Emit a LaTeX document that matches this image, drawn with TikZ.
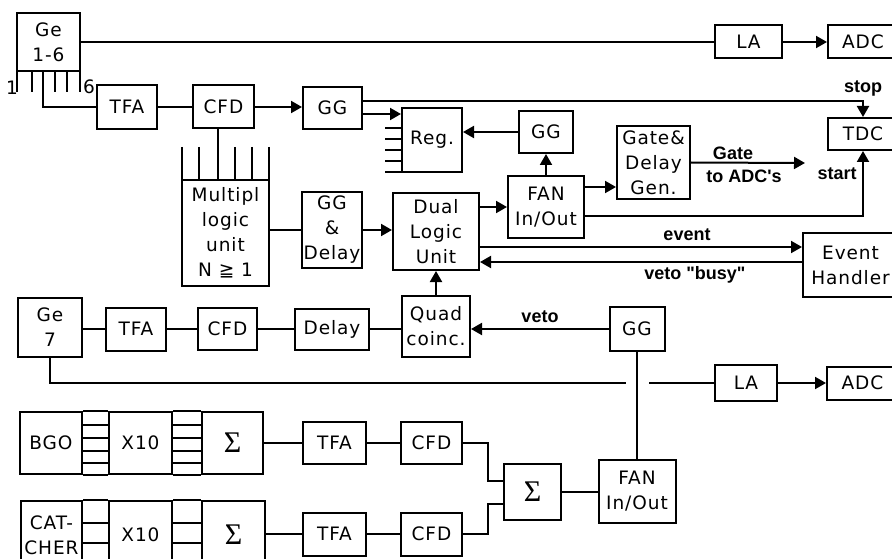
\documentclass[tikz,border=0pt]{standalone}
\usepackage{fontspec}
\setmainfont{DejaVu Sans}[LetterSpace=5]
\newfontfamily\lblfont{Liberation Sans}
\newfontfamily\sumfont{Liberation Serif}
\usetikzlibrary{arrows.meta}
\tikzset{
  blk/.style 2 args={draw, line width=2pt, minimum width=#1, minimum height=#2,
    inner sep=0pt, align=center, font=\fontsize{18.5}{25}\selectfont},
  txt/.style={inner sep=0pt, font=\fontsize{18.5}{25}\selectfont},
  lbl/.style={inner sep=0pt, font=\lblfont\bfseries\fontsize{18}{20}\selectfont},
  wire/.style={line width=2pt},
  sig/.style={wire, -{Triangle[length=11pt,width=12pt]}}
}
\newcommand{\sumsym}{{\sumfont\fontsize{30}{30}\selectfont Σ}}
\begin{document}
\begin{tikzpicture}[x=1pt,y=-1pt]
\useasboundingbox (0,0) rectangle (892,559);
\node[blk={63}{58}] (ge1) at (48.5,42) {Ge\\1-6};
\node[blk={67}{33}] (la1) at (748.5,42) {LA};
\node[blk={70}{33}] (adc1) at (863,42) {ADC};
\draw[wire] (ge1.east) -- (la1.west);
\draw[sig] (la1) -- (adc1);
\foreach \x in {17,32,43,55,67,80} \draw[wire] (\x,71) -- (\x,92);
\node[txt] (one) at (12,88) {1};
\node[txt] (six) at (89,87) {6};
\coordinate (t3) at (43,92);
\node[blk={60}{44}] (tfa1) at (127,107) {TFA};
\node[blk={61}{43}] (cfd1) at (223.5,107) {CFD};
\node[blk={59}{42}] (gg1) at (332.5,108) {GG};
\draw[wire] (t3) |- (tfa1.west);
\draw[wire] (tfa1) -- (cfd1);
\draw[sig] (cfd1) -- (cfd1 -| gg1.west);
\node[blk={87}{106}] (mlu) at (225.5,233) {Multipl\\logic\\unit\\N ≧ 1};
\foreach \x in {182,199,218,235,252,269} \draw[wire] (\x,147) -- (\x,180);
\coordinate (mt) at (218,147);
\draw[wire] (cfd1.south -| mt) -- (mt);
\node[blk={60}{76}] (ggd) at (332,230) {GG\\\&\\Delay};
\node[blk={86}{77}] (dlu) at (436,231.5) {Dual\\Logic\\Unit};
\draw[wire] (mlu.east |- ggd.west) -- (ggd.west);
\draw[sig] (ggd.east) -- (ggd.east -| dlu.west);
\node[blk={60}{64}] (reg) at (432,140) {Reg.};
\foreach \y in {128,139,150,161,172} \draw[wire] (385,\y) -- (402,\y);
\coordinate (gg1b) at ([yshift=-6pt]gg1.east);
\draw[sig] (gg1b) -- (gg1b -| reg.west);
\node[blk={70}{32}] (tdc) at (863,134) {TDC};
\coordinate (gg1a) at ([yshift=7pt]gg1.east);
\draw[sig] (gg1a) -| (tdc.north);
\node[lbl] (stop) at (863,88) {stop};
\node[blk={54}{42}] (gg2) at (546,132) {GG};
\node[blk={76}{62}] (fan1) at (546,207) {FAN\\In/Out};
\draw[sig] (gg2.west) -- (gg2.west -| reg.east);
\draw[sig] (fan1.north) -- (gg2.south);
\draw[sig] (fan1.west -| dlu.east) -- (fan1.west);
\node[blk={73}{73}] (gdg) at (653.5,162.5) {Gate\&\\Delay\\Gen.};
\coordinate (fan1a) at ([yshift=20pt]fan1.east);
\draw[sig] (fan1a) -- (fan1a -| gdg.west);
\coordinate (gateout) at (805,163);
\draw[sig] (gdg.east) -- (gateout);
\node[lbl] (gatel) at (733,153) {Gate};
\node[lbl] (toadc) at (744,176) {to ADC's};
\coordinate (fan1b) at ([yshift=-9pt]fan1.east);
\draw[sig] (fan1b) -| (tdc.south);
\node[lbl] (start) at (837,174) {start};
\node[blk={95}{64}] (evh) at (850.5,265) {Event\\Handler};
\coordinate (dluev) at ([yshift=-15.5pt]dlu.east);
\coordinate (dluveto) at ([yshift=-30.5pt]dlu.east);
\draw[sig] (dluev) -- (dluev -| evh.west);
\draw[sig] (dluveto -| evh.west) -- (dluveto);
\node[lbl] (event) at (687,235) {event};
\node[lbl] (busy) at (695,275) {veto "busy"};
\node[blk={64}{59}] (ge7) at (50,327) {Ge\\7};
\node[blk={60}{43}] (tfa2) at (136,329) {TFA};
\node[blk={59}{42}] (cfd2) at (227.5,329) {CFD};
\node[blk={74}{41}] (dly) at (332,329) {Delay};
\node[blk={68}{61}] (quad) at (436,326.5) {Quad\\coinc.};
\node[blk={55}{44}] (gg3) at (637,329) {GG};
\draw[wire] (ge7.east |- tfa2.west) -- (tfa2.west);
\draw[wire] (tfa2) -- (cfd2);
\draw[wire] (cfd2) -- (dly);
\draw[wire] (dly.east) -- (dly.east -| quad.west);
\draw[sig] (gg3.west) -- (gg3.west -| quad.east);
\node[lbl] (veto) at (540,317) {veto};
\draw[sig] (quad.north) -- (dlu.south);
\coordinate (gapl) at (626,383);
\coordinate (gapr) at (649,383);
\node[blk={62}{36}] (la2) at (746,383) {LA};
\node[blk={71}{33}] (adc2) at (862.5,383) {ADC};
\draw[wire] (ge7.south) |- (gapl);
\draw[wire] (gapr) -- (la2.west);
\draw[sig] (la2) -- (adc2);
\node[blk={77}{63}] (fan2) at (637,491.5) {FAN\\In/Out};
\node[blk={57}{56}] (sum) at (532.5,491.5) {\sumsym};
\draw[wire] (gg3.south) -- (fan2.north);
\draw[wire] (sum) -- (fan2);
\node[blk={62}{62}] (bgo) at (51,443) {BGO};
\node[blk={63}{62}] (xa) at (140.5,443) {X10};
\node[blk={61}{62}] (sa) at (232.5,443) {\sumsym};
\draw[wire] (bgo.north east) -- (xa.north west) (xa.north east) -- (sa.north west);
\draw[wire] (bgo.south east) -- (xa.south west) (xa.south east) -- (sa.south west);
\foreach \y in {425,438,451,463} {
  \draw[wire] (82,\y) -- (109,\y);
  \draw[wire] (172,\y) -- (202,\y);
}
\node[blk={63}{42}] (tfa3) at (334.5,443) {TFA};
\node[blk={61}{42}] (cfd3) at (431.5,443) {CFD};
\draw[wire] (sa) -- (tfa3);
\draw[wire] (tfa3) -- (cfd3);
\coordinate (sumin1) at ([yshift=11pt]sum.west);
\draw[wire] (cfd3.east) -- ++(25,0) |- (sumin1);
\node[blk={61}{68}] (cat) at (51.5,535) {CAT-\\CHER};
\node[blk={63}{68}] (xb) at (140.5,535) {X10};
\node[blk={63}{68}] (sb) at (233.5,535) {\sumsym};
\draw[wire] (cat.north east) -- (xb.north west) (xb.north east) -- (sb.north west);
\foreach \y in {523,543} {
  \draw[wire] (82,\y) -- (109,\y);
  \draw[wire] (172,\y) -- (202,\y);
}
\node[blk={63}{43}] (tfa4) at (334.5,534) {TFA};
\node[blk={61}{43}] (cfd4) at (431.5,534) {CFD};
\draw[wire] (sb.east |- tfa4.west) -- (tfa4.west);
\draw[wire] (tfa4) -- (cfd4);
\coordinate (sumin2) at ([yshift=-12pt]sum.west);
\draw[wire] (cfd4.east) -- ++(25,0) |- (sumin2);
\end{tikzpicture}
\end{document}
